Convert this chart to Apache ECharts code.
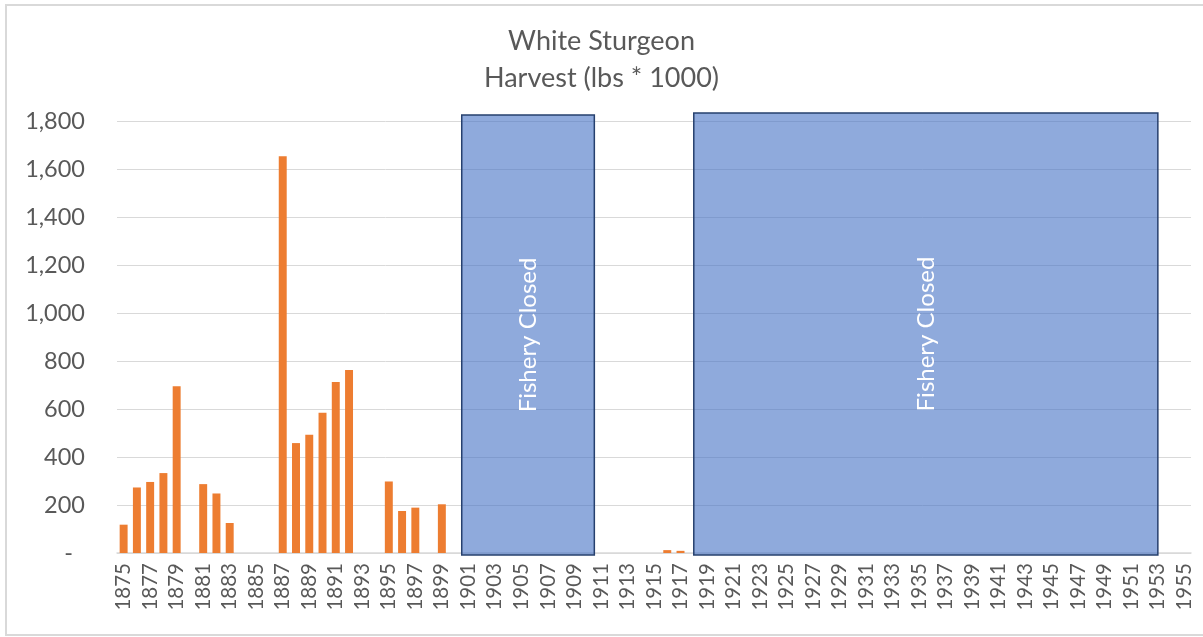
<!DOCTYPE html>
<html>
<head>
<meta charset="utf-8">
<script src="https://cdn.jsdelivr.net/npm/echarts@6/dist/echarts.min.js"></script>
<style>
html,body{margin:0;padding:0;background:#fff;}
#chart{width:1203px;height:637px;}
</style>
</head>
<body>
<div id="chart"></div>
<script>
const years = ['1875','1876','1877','1878','1879','1880','1881','1882','1883','1884','1885','1886','1887','1888','1889','1890','1891','1892','1893','1894','1895','1896','1897','1898','1899','1900','1901','1902','1903','1904','1905','1906','1907','1908','1909','1910','1911','1912','1913','1914','1915','1916','1917','1918','1919','1920','1921','1922','1923','1924','1925','1926','1927','1928','1929','1930','1931','1932','1933','1934','1935','1936','1937','1938','1939','1940','1941','1942','1943','1944','1945','1946','1947','1948','1949','1950','1951','1952','1953','1954','1955'];
const harvest = [118,273,296,333,695,null,287,248,125,null,null,null,1653,458,493,584,712,762,null,null,298,175,189,null,203,
  null,null,null,null,null,null,null,null,null,null,null,null,null,null,null,null,
  12,9,
  null,null,null,null,null,null,null,null,null,null,null,null,null,null,null,null,null,null,null,null,null,null,null,null,null,null,null,null,null,null,null,null,null,null,null,null,null,null,null,null];
// closure periods (year positions on a continuous year scale)
const closureStart = [1900.5, 1918];
const closureEnd = [1910.5, 1953];
const closureTop = [1825, 1833];
const closureBottom = -8;
const closureLabel = ['Fishery Closed', 'Fishery Closed'];
const yTicks = [0,200,400,600,800,1000,1200,1400,1600,1800];

const chart = echarts.init(document.getElementById('chart'));
const font = 'Lato';
const closureData = closureStart.map((s,i)=>[s, closureEnd[i], closureTop[i], closureLabel[i]]);

chart.setOption({
  animation:false,
  textStyle:{fontFamily:font},
  graphic:[{type:'rect', shape:{x:6,y:5,width:1215,height:630}, style:{fill:'none', stroke:'#d9d9d9', lineWidth:2}, z:-1}],
  title:{
    text:'White Sturgeon\nHarvest (lbs * 1000)',
    left:'center', top:18,
    textStyle:{fontFamily:font, fontSize:27, fontWeight:'normal', color:'#595959', lineHeight:37}
  },
  grid:{left:117, right:12, top:121, bottom:84, containLabel:false},
  xAxis:[{
    type:'category', data:years, boundaryGap:true,
    axisLine:{lineStyle:{color:'#d9d9d9', width:1.5}},
    axisTick:{show:false},
    axisLabel:{interval:1, rotate:90, margin:10, color:'#595959', fontSize:20.5, fontFamily:font}
  },{
    type:'value', min:1874.5, max:1955.5, show:false
  }],
  yAxis:{
    type:'value', min:yTicks[0], max:yTicks[yTicks.length-1], interval:200,
    axisLine:{show:false}, axisTick:{show:false},
    splitLine:{lineStyle:{color:'#d9d9d9', width:1}},
    axisLabel:{
      margin:32, color:'#595959', fontSize:23.5, fontFamily:font,
      formatter:function(v){ return v===0 ? '{d|-}' : v.toLocaleString('en-US'); },
      rich:{d:{color:'#595959', fontSize:23.5, fontFamily:font, padding:[0,12,0,0]}}
    }
  },
  series:[{
    type:'bar', data:harvest, barCategoryGap:'40%', xAxisIndex:0,
    itemStyle:{color:'#ED7D31'}
  },{
    type:'custom', xAxisIndex:1, clip:false, z:5,
    data:closureData,
    encode:{x:[0,1], y:2},
    renderItem:function(params, api){
      const p0 = api.coord([api.value(0), api.value(2)]);
      const p1 = api.coord([api.value(1), closureBottom]);
      const label = closureData[params.dataIndex][3];
      return {type:'group', children:[
        {type:'rect', shape:{x:p0[0], y:p0[1], width:p1[0]-p0[0], height:p1[1]-p0[1]},
          style:{fill:'rgba(68,114,196,0.6)', stroke:'#26406E', lineWidth:1.5}},
        {type:'text', x:(p0[0]+p1[0])/2, y:(p0[1]+p1[1])/2, rotation:Math.PI/2,
          style:{text:label, fill:'#ffffff', font:'24px '+font, align:'center', verticalAlign:'middle'}}
      ]};
    }
  }]
});
</script>
</body>
</html>
